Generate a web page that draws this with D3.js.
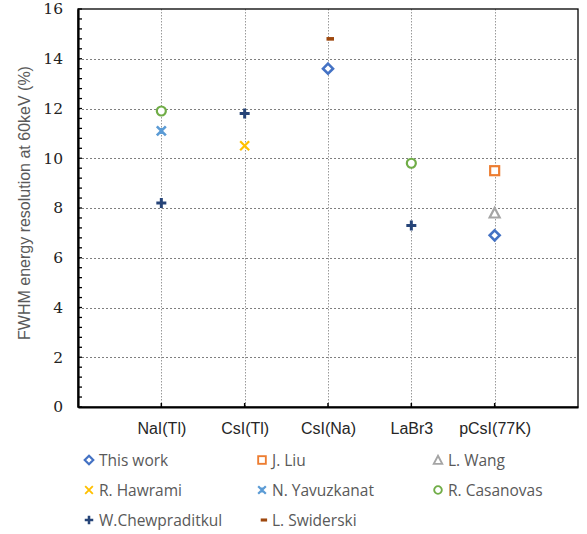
<!DOCTYPE html>
<html><head><meta charset="utf-8">
<script src="https://cdn.jsdelivr.net/npm/d3@7"></script>
<style>body{margin:0;background:#fff}</style>
</head><body><svg id="c" width="587" height="534"></svg>
<script>
const categories = ["NaI(Tl)", "CsI(Tl)", "CsI(Na)", "LaBr3", "pCsI(77K)"];
const yTicks = [0, 2, 4, 6, 8, 10, 12, 14, 16];
const seriesNames = ["This work", "J. Liu", "L. Wang", "R. Hawrami", "N. Yavuzkanat", "R. Casanovas", "W.Chewpraditkul", "L. Swiderski"];
const thisWork = [null, null, 13.6, null, 6.9];
const jLiu = [null, null, null, null, 9.5];
const lWang = [null, null, null, null, 7.8];
const rHawrami = [null, 10.5, null, null, null];
const nYavuzkanat = [11.1, null, null, null, null];
const rCasanovas = [11.9, null, null, 9.8, null];
const wChewpraditkul = [8.2, 11.8, null, 7.3, null];
const lSwiderski = [null, null, 14.8, null, null];

const seriesValues = [thisWork, jLiu, lWang, rHawrami, nYavuzkanat, rCasanovas, wChewpraditkul, lSwiderski];
const colors = ["#4472C4", "#ED7D31", "#A5A5A5", "#FFC000", "#5B9BD5", "#70AD47", "#264478", "#9E480E"];
const shapes = ["diamond", "square", "triangle", "x", "star", "circle", "plus", "dash"];

const svg = d3.select("#c");
const L = 78, R = 578, T = 9, B = 407;
const x = d3.scaleLinear().domain([0, categories.length + 1]).range([L, R]);
const y = d3.scaleLinear().domain([0, 16]).range([B, T]);

// grid
svg.append("g").selectAll("line").data(yTicks.filter(d => d > 0 && d < 16)).join("line")
  .attr("x1", L).attr("x2", R).attr("y1", d => Math.round(y(d)) + 0.5).attr("y2", d => Math.round(y(d)) + 0.5)
  .attr("stroke", "#7f7f7f").attr("stroke-width", 1).attr("stroke-dasharray", "2,2");
svg.append("g").selectAll("line").data(categories).join("line")
  .attr("x1", (d, i) => Math.round(x(i + 1)) + 0.5).attr("x2", (d, i) => Math.round(x(i + 1)) + 0.5)
  .attr("y1", T).attr("y2", B)
  .attr("stroke", "#9a9a9a").attr("stroke-width", 1).attr("stroke-dasharray", "1.5,1.5");

// border
svg.append("rect").attr("x", L).attr("y", T).attr("width", R - L).attr("height", B - T)
  .attr("fill", "none").attr("stroke", "#000").attr("stroke-width", 1.3);

// y axis
const yAxis = d3.axisLeft(y).tickValues(yTicks).tickSize(0).tickPadding(15).tickFormat(d3.format("d"));
const gy = svg.append("g").attr("transform", `translate(${L},0)`).call(yAxis);
gy.select(".domain").attr("stroke", "#000").attr("stroke-width", 2.2);
gy.selectAll("text").attr("font-family", "'DejaVu Serif', serif").attr("font-size", 15.5).attr("fill", "#222");
// minor inside ticks
const minor = d3.range(0, 16.001, 0.4);
svg.append("g").selectAll("line").data(minor).join("line")
  .attr("x1", L).attr("x2", L + 4).attr("y1", d => y(d)).attr("y2", d => y(d))
  .attr("stroke", "#000").attr("stroke-width", 1.3);

// x axis
const xAxis = d3.axisBottom(x).tickValues(d3.range(1, categories.length + 1)).tickSize(0).tickPadding(16)
  .tickFormat(d => categories[d - 1]);
const gx = svg.append("g").attr("transform", `translate(0,${B})`).call(xAxis);
gx.select(".domain").attr("stroke", "#000").attr("stroke-width", 2.2);
gx.selectAll("text").attr("font-family", "'Liberation Sans', Arial, sans-serif").attr("font-size", 16).attr("fill", "#262626");
svg.append("g").selectAll("line").data(categories).join("line")
  .attr("x1", (d, i) => x(i + 1)).attr("x2", (d, i) => x(i + 1)).attr("y1", B).attr("y2", B - 4)
  .attr("stroke", "#000").attr("stroke-width", 1.5);

// y title
svg.append("text").attr("transform", `translate(30,203) rotate(-90)`)
  .attr("text-anchor", "middle").attr("font-family", "'Liberation Sans', Arial, sans-serif")
  .attr("font-size", 16).attr("fill", "#595959").text("FWHM energy resolution at 60keV (%)");

function marker(g, shape, color) {
  const s = 5;
  if (shape === "diamond") g.append("path").attr("d", `M0,${-s}L${s},0L0,${s}L${-s},0Z`).attr("fill", "#fff").attr("stroke", color).attr("stroke-width", 2.6);
  else if (shape === "square") g.append("rect").attr("x", -4.5).attr("y", -4.5).attr("width", 9).attr("height", 9).attr("fill", "#fff").attr("stroke", color).attr("stroke-width", 2.2);
  else if (shape === "triangle") g.append("path").attr("d", `M0,-5L5,4.5L-5,4.5Z`).attr("fill", "#fff").attr("stroke", color).attr("stroke-width", 2.2);
  else if (shape === "circle") g.append("circle").attr("r", 4.5).attr("fill", "#fff").attr("stroke", color).attr("stroke-width", 2.2);
  else if (shape === "x") g.append("path").attr("d", "M-4.5,-4.5L4.5,4.5M-4.5,4.5L4.5,-4.5").attr("stroke", color).attr("stroke-width", 2.2).attr("fill", "none");
  else if (shape === "star") g.append("path").attr("d", "M-4.5,-4.5L4.5,4.5M-4.5,4.5L4.5,-4.5M0,-3L0,3").attr("stroke", color).attr("stroke-width", 2.6).attr("fill", "none");
  else if (shape === "plus") g.append("path").attr("d", "M-5,0L5,0M0,-5L0,5").attr("stroke", color).attr("stroke-width", 3).attr("fill", "none");
  else if (shape === "dash") g.append("rect").attr("x", -1.5).attr("y", -1.8).attr("width", 7.5).attr("height", 3.6).attr("fill", color);
}

// points
seriesValues.forEach((vals, si) => {
  vals.forEach((v, ci) => {
    if (v == null) return;
    const g = svg.append("g").attr("transform", `translate(${x(ci + 1)},${y(v)})`);
    marker(g, shapes[si], colors[si]);
  });
});

// legend
const colX = [89, 262, 438];
const rowY = [460, 490, 520];
seriesNames.forEach((name, i) => {
  const cx = colX[i % 3], cy = rowY[Math.floor(i / 3)];
  const g = svg.append("g").attr("transform", `translate(${cx},${cy}) scale(0.85)`);
  marker(g, shapes[i], colors[i]);
  svg.append("text").attr("x", cx + 10).attr("y", cy + 5.5)
    .attr("font-family", "'Open Sans', sans-serif").attr("font-size", 15.5).attr("fill", "#595959").text(name);
});
</script></body></html>
